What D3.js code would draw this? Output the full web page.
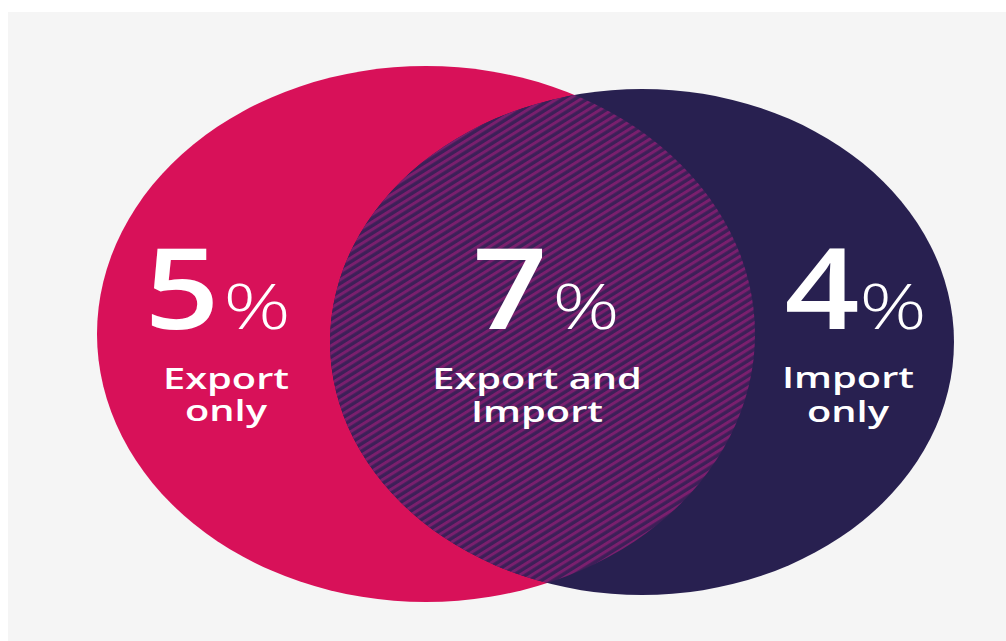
<!DOCTYPE html>
<html>
<head>
<meta charset="utf-8">
<script src="https://cdn.jsdelivr.net/npm/d3@7/dist/d3.min.js"></script>
<style>
  html, body { margin: 0; padding: 0; background: #ffffff; }
  svg { display: block; }
</style>
</head>
<body>
<svg id="chart" width="1006" height="641"></svg>
<script>
// Share of firms by trade activity
const categories = ["Export only", "Export and Import", "Import only"];
const values = [5, 7, 4];
const labelLines = [["Export", "only"], ["Export and", "Import"], ["Import", "only"]];
const setNames = ["Export", "Import"];

const W = 1006, H = 641;
const svg = d3.select("#chart");

// panel background
svg.append("rect")
  .attr("x", 8).attr("y", 12)
  .attr("width", W - 8).attr("height", H - 12)
  .attr("fill", "#f5f5f5");

// ellipse geometry for the two sets
const shapes = {
  Export: { cx: 426, cy: 334, rx: 329, ry: 268, fill: "#d81159" },
  Import: { cx: 642, cy: 342, rx: 312, ry: 253, fill: "#282050" }
};

const defs = svg.append("defs");
const pat = defs.append("pattern")
  .attr("id", "hatch")
  .attr("patternUnits", "userSpaceOnUse")
  .attr("width", 12).attr("height", 6.4)
  .attr("patternTransform", "rotate(-32)");
pat.append("rect").attr("width", 12).attr("height", 6.4).attr("fill", "#3d1f58");
pat.append("rect").attr("y", 0).attr("width", 12).attr("height", 3.0).attr("fill", "#7a1f6e");

defs.append("clipPath").attr("id", "importClip")
  .append("ellipse")
  .attr("cx", shapes.Import.cx).attr("cy", shapes.Import.cy)
  .attr("rx", shapes.Import.rx).attr("ry", shapes.Import.ry);

svg.append("g").selectAll("ellipse")
  .data(setNames)
  .join("ellipse")
  .attr("cx", d => shapes[d].cx)
  .attr("cy", d => shapes[d].cy)
  .attr("rx", d => shapes[d].rx)
  .attr("ry", d => shapes[d].ry)
  .attr("fill", d => shapes[d].fill);

// intersection: export ellipse clipped by import ellipse, hatched
svg.append("ellipse")
  .attr("clip-path", "url(#importClip)")
  .attr("cx", shapes.Export.cx).attr("cy", shapes.Export.cy)
  .attr("rx", shapes.Export.rx).attr("ry", shapes.Export.ry)
  .attr("fill", "url(#hatch)");

// label anchors per region (horizontal centres)
const numX = d3.scaleOrdinal().domain(categories).range([182, 510, 822]);
const pctX = d3.scaleOrdinal().domain(categories).range([257, 586, 893]);
const lineX = d3.scaleOrdinal().domain(categories).range([226, 537, 848]);
const numBaseline = 329;
const lineBaselines = [[389, 421], [389, 422], [388, 422]];

const labels = svg.append("g")
  .attr("fill", "#ffffff")
  .attr("font-family", "'Open Sans', 'Noto Sans', sans-serif")
  .attr("text-anchor", "middle");

const groups = labels.selectAll("g.region")
  .data(categories)
  .join("g")
  .attr("class", "region");

groups.append("text")
  .attr("transform", d => `translate(${numX(d)},${numBaseline}) scale(1.16,1)`)
  .attr("font-size", 113)
  .attr("font-weight", 600)
  .text((d, i) => values[i]);

groups.append("text")
  .attr("transform", d => `translate(${pctX(d)},${numBaseline}) scale(1.35,1)`)
  .attr("font-size", 62)
  .attr("font-weight", 300)
  .text("%");

groups.each(function (d, i) {
  d3.select(this).selectAll("text.line")
    .data(labelLines[i])
    .join("text")
    .attr("class", "line")
    .attr("transform", (t, j) => `translate(${lineX(d)},${lineBaselines[i][j]}) scale(1.35,1)`)
    .attr("font-size", 29.5)
    .attr("font-weight", 600)
    .text(t => t);
});
</script>
</body>
</html>
